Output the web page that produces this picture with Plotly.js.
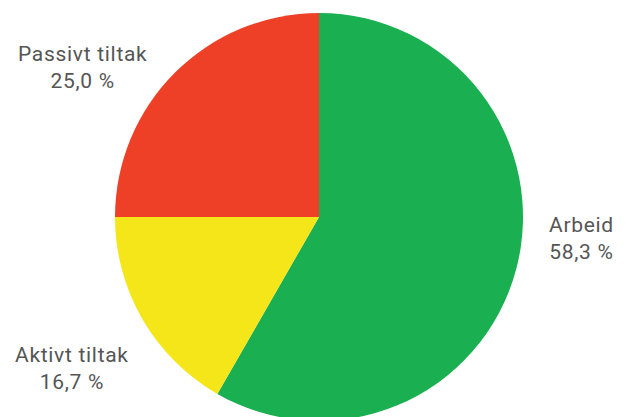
<!DOCTYPE html>
<html>
<head>
<meta charset="utf-8">
<script src="https://cdn.plot.ly/plotly-3.0.1.min.js"></script>
<style>
html,body{margin:0;padding:0;overflow:hidden;background:#fff;}
#chart{width:630px;height:427px;}
.annotation-text{letter-spacing:0.7px;}
</style>
</head>
<body>
<div id="chart"></div>
<script>
const categories = ["Arbeid", "Aktivt tiltak", "Passivt tiltak"];
const shares = [58.3, 16.7, 25.0];
const sliceColors = ["#1aaf50", "#f5e61a", "#ee4027"];

// label anchor points (paper coords) for each category
const labelX = [581/630, 72/630, 82/630];
const labelY = [(427-239)/427, (427-368)/427, (427-68)/427];

function fmt(v){ return v.toFixed(1).replace('.', ',') + ' %'; }

const annotations = categories.map((c, i) => ({
  xref: 'paper', yref: 'paper',
  x: labelX[i], y: labelY[i],
  xanchor: 'center', yanchor: 'middle',
  text: c + '<br>' + fmt(shares[i]),
  showarrow: false,
  align: 'center',
  font: {family: 'Roboto, "DejaVu Sans", sans-serif', size: 21, color: '#555555'}
}));

Plotly.newPlot('chart', [{
  type: 'pie',
  labels: categories,
  values: shares,
  sort: false,
  direction: 'clockwise',
  rotation: 0,
  marker: {colors: sliceColors, line: {width: 0}},
  textinfo: 'none',
  hoverinfo: 'none',
  showlegend: false,
  domain: {x: [115/630, 523/630], y: [6/427, 414/427]}
}], {
  width: 630, height: 427,
  margin: {l: 0, r: 0, t: 0, b: 0},
  paper_bgcolor: '#ffffff',
  showlegend: false,
  annotations: annotations
}, {displayModeBar: false, staticPlot: true});
</script>
</body>
</html>
